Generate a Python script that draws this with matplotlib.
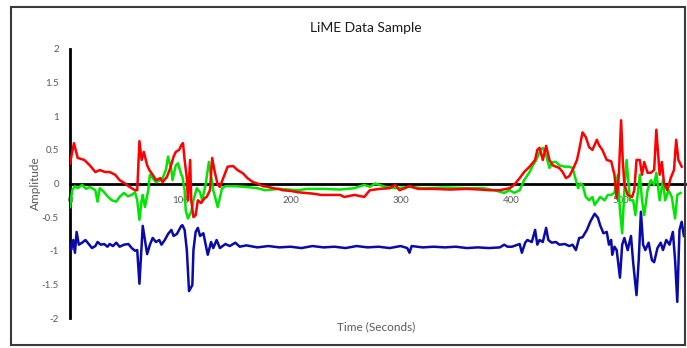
import numpy as np
import matplotlib
matplotlib.use("Agg")
from matplotlib import pyplot as plt
from matplotlib.patches import Rectangle

# values (time in seconds, amplitude)
red_t = [0, 3.6, 7, 13, 18, 23, 27, 32, 36, 41, 45, 50, 54, 59, 61, 63, 65, 67, 70, 72, 75, 78,
         82, 84, 88, 91, 94, 96, 99, 101, 102.5, 104, 106, 107, 109, 110, 112, 114, 116, 119,
         122, 124, 127, 129, 131, 134, 136, 139, 143, 148, 152, 157, 161, 166, 170, 175, 180,
         184, 189, 193, 200, 207, 213, 220, 228, 236, 245, 249, 258, 267, 272, 281, 290, 295,
         299, 308, 316, 330, 345, 360, 372, 381, 390, 399, 403, 408, 412, 417, 422, 424, 426,
         429, 432, 435, 438, 441, 444, 447, 450, 453, 456, 460, 462, 465, 468, 471, 474, 478,
         480, 483, 487, 491, 494, 496, 498, 500, 501.5, 503, 506, 510, 512, 514, 517, 519, 521,
         524, 527, 530, 532, 535, 537, 539, 542, 545, 548, 550, 552, 555]
red_v = [0.30, 0.60, 0.38, 0.35, 0.27, 0.17, 0.20, 0.17, 0.17, 0.13, 0.05, 0.00, -0.05, -0.10,
         -0.10, 0.63, 0.35, 0.47, 0.27, 0.20, 0.13, 0.05, 0.08, 0.02, 0.10, 0.23, 0.40, 0.47,
         0.50, 0.57, 0.60, 0.35, 0.08, -0.25, 0.35, -0.25, -0.50, -0.47, -0.25, -0.29, -0.22,
         -0.20, -0.10, 0.38, 0.20, -0.02, -0.05, 0.08, 0.25, 0.26, 0.20, 0.15, 0.08, 0.02, 0.00,
         -0.04, -0.05, -0.07, -0.08, -0.10, -0.11, -0.13, -0.14, -0.15, -0.17, -0.17, -0.17,
         -0.20, -0.17, -0.20, -0.10, -0.08, -0.07, -0.02, -0.10, -0.04, -0.08, -0.08, -0.09,
         -0.08, -0.09, -0.10, -0.10, -0.07, -0.02, 0.08, 0.17, 0.25, 0.35, 0.50, 0.53, 0.35,
         0.56, 0.35, 0.27, 0.25, 0.23, 0.17, 0.08, 0.11, 0.20, 0.35, 0.50, 0.76, 0.69, 0.54,
         0.50, 0.65, 0.57, 0.50, 0.35, 0.33, 0.13, -0.22, 0.13, 0.94, 0.35, -0.02, -0.17, -0.20,
         -0.10, 0.35, 0.35, 0.13, 0.32, 0.16, 0.16, 0.20, 0.80, 0.13, 0.32, 0.00, -0.10, 0.08,
         0.20, 0.65, 0.35, 0.25]

green_t = [0, 2, 4.5, 7, 11, 14.5, 18, 23, 25, 27, 31, 34, 38, 42, 45, 49, 52.5, 56, 59, 61, 63,
           65, 66, 68, 71, 72.5, 75, 78, 82, 84, 87, 89, 92, 93, 96, 98, 101, 102, 104, 105, 107,
           110, 112, 115, 118, 120, 123, 126, 130, 134, 138, 141, 150, 159, 170, 177, 190, 207,
           215, 230, 245, 258, 267, 272, 277, 286, 295, 308, 320, 340, 360, 375, 385, 394, 399,
           403, 408, 412, 417, 420, 423, 427, 429, 432, 435, 438, 441, 444, 449, 453, 456, 459,
           461, 463, 465, 468, 471, 474, 476, 479, 481, 485, 488, 491, 494, 497, 499, 501, 503,
           505, 508, 511, 513, 517, 519, 521, 524, 527, 530, 532, 535, 538, 540, 543, 546, 549,
           551, 554]
green_v = [-0.35, -0.10, -0.04, -0.07, -0.02, -0.08, -0.05, -0.10, -0.27, -0.07, -0.13, -0.19,
           -0.25, -0.27, -0.20, -0.14, -0.19, -0.17, -0.13, -0.25, -0.54, -0.25, -0.17, -0.35,
           -0.10, 0.13, 0.08, 0.02, 0.05, 0.08, 0.20, 0.40, 0.20, 0.05, 0.27, 0.30, 0.13, 0.10,
           -0.10, -0.40, -0.52, -0.42, -0.25, -0.07, -0.13, -0.25, -0.02, 0.32, -0.10, -0.35,
           -0.07, -0.04, -0.04, -0.05, -0.07, -0.10, -0.08, -0.10, -0.08, -0.08, -0.09, -0.07,
           -0.02, -0.05, 0.00, -0.05, -0.07, -0.05, -0.07, -0.06, -0.07, -0.07, -0.10, -0.14,
           -0.10, -0.14, -0.10, 0.05, 0.17, 0.27, 0.35, 0.50, 0.53, 0.42, 0.23, 0.32, 0.32, 0.27,
           0.25, 0.25, 0.23, 0.05, -0.07, 0.00, -0.02, -0.20, -0.25, -0.20, -0.32, -0.25, -0.20,
           -0.25, -0.17, -0.17, -0.14, 0.13, -0.40, -0.74, -0.10, 0.35, -0.25, -0.25, -0.47,
           0.13, -0.25, -0.47, -0.10, 0.05, -0.02, 0.16, -0.25, 0.05, -0.25, -0.10, -0.20,
           -0.52, -0.17, -0.14]

blue_t = [0, 1, 3, 4.5, 6, 8, 11, 14, 16, 20, 23, 25, 28, 31, 34, 36, 39, 42, 45, 49, 53, 56,
          59, 61, 63, 65, 66, 68, 70, 72.5, 75, 78, 81, 83, 86, 89, 92, 94, 97, 101, 102, 104,
          106, 108, 111, 112, 114, 116, 118, 121, 123, 125, 128, 130, 133, 136, 141, 145, 150,
          154, 160, 170, 180, 190, 200, 210, 220, 230, 240, 250, 260, 270, 280, 290, 300, 306,
          308, 310, 320, 330, 340, 350, 360, 370, 380, 390, 394, 397, 401, 408, 410, 413, 415,
          419, 422, 424, 426, 429, 432, 434, 437, 441, 444, 449, 453, 456, 459, 462, 465, 469,
          472, 476, 479, 481, 484, 487, 489, 491, 492, 494, 496, 499, 501, 503, 506, 509, 511,
          514, 516, 518, 520, 522, 525, 528, 530, 533, 536, 538, 541, 544, 547, 549, 551, 553,
          555, 557]
blue_v = [-0.91, -0.99, -0.84, -1.03, -0.72, -0.91, -0.88, -0.84, -0.88, -0.96, -0.93, -0.87,
          -0.91, -0.90, -0.94, -0.90, -0.93, -0.88, -0.94, -0.91, -0.90, -0.96, -1.00, -0.99,
          -1.49, -0.91, -0.63, -0.84, -1.05, -0.91, -0.81, -0.87, -0.84, -0.91, -0.84, -0.75,
          -0.69, -0.78, -0.75, -0.63, -0.62, -0.69, -0.99, -1.60, -1.51, -0.99, -0.72, -0.66,
          -0.78, -0.74, -0.90, -1.06, -0.87, -0.96, -0.84, -0.96, -0.90, -0.93, -0.88, -0.94,
          -0.92, -0.95, -0.93, -0.95, -0.94, -0.96, -0.93, -0.95, -0.94, -0.96, -0.93, -0.95,
          -0.94, -0.96, -0.93, -0.96, -1.03, -0.93, -0.95, -0.94, -0.95, -0.94, -0.96, -0.95,
          -0.96, -0.95, -0.91, -0.94, -0.94, -0.90, -1.03, -0.88, -0.84, -0.87, -0.69, -0.91,
          -0.84, -0.87, -0.66, -0.84, -0.88, -0.87, -0.91, -0.90, -0.93, -0.91, -0.99, -0.81,
          -0.80, -0.69, -0.57, -0.45, -0.51, -0.62, -0.74, -0.72, -0.91, -0.84, -1.06, -0.94,
          -0.99, -1.40, -0.91, -0.81, -0.99, -0.78, -1.18, -1.66, -1.14, -0.42, -0.91, -0.99,
          -0.88, -1.14, -1.17, -0.96, -0.88, -0.99, -0.84, -0.91, -0.72, -1.14, -1.76, -0.69,
          -0.57, -0.78]

x_ticks = [0, 100, 200, 300, 400, 500]
y_ticks = [-2, -1.5, -1, -0.5, 0, 0.5, 1, 1.5, 2]

plt.rcParams['font.family'] = ['Lato', 'DejaVu Sans']
grey = '#595959'

fig = plt.figure(figsize=(6.87, 3.48), dpi=100)
ax = fig.add_axes([70 / 687, 30 / 348, 615 / 687, 269 / 348])

ax.plot(blue_t, blue_v, color='#0a0aaa', lw=1.8, zorder=3)
ax.plot(green_t, green_v, color='#00e600', lw=1.8, zorder=3)
ax.plot(red_t, red_v, color='#ff0000', lw=1.8, zorder=3)

ax.set_xlim(0, 558)
ax.set_ylim(-2, 2)
ax.set_xticks(x_ticks)
ax.set_yticks(y_ticks)
ax.set_yticklabels(['-2', '-1.5', '-1', '-0.5', '0', '0.5', '1', '1.5', '2'])

for s in ['top', 'right']:
    ax.spines[s].set_visible(False)
ax.spines['bottom'].set_position(('data', 0))
ax.spines['bottom'].set_linewidth(2)
ax.spines['left'].set_linewidth(2)
ax.spines['bottom'].set_zorder(2)
ax.tick_params(length=0, labelsize=7, labelcolor=grey)
ax.tick_params(axis='x', pad=9)
ax.tick_params(axis='y', pad=8)
ax.patch.set_visible(False)

fig.text(366 / 687, 1 - 28 / 348, 'LiME Data Sample', ha='center', va='center',
         fontsize=10, color='#1a1a1a')
fig.text(35 / 687, 1 - 183 / 348, 'Amplitude', ha='center', va='center', rotation=90,
         fontsize=8.5, color=grey)
fig.text(376 / 687, 1 - 327 / 348, 'Time (Seconds)', ha='center', va='center',
         fontsize=8.5, color=grey)

fig.patches.append(Rectangle((11 / 687, 3 / 348), 674 / 687, 338 / 348, transform=fig.transFigure,
                             fill=False, edgecolor='#3a3a3a', lw=1.5))

fig.savefig('out.png', dpi=100)
